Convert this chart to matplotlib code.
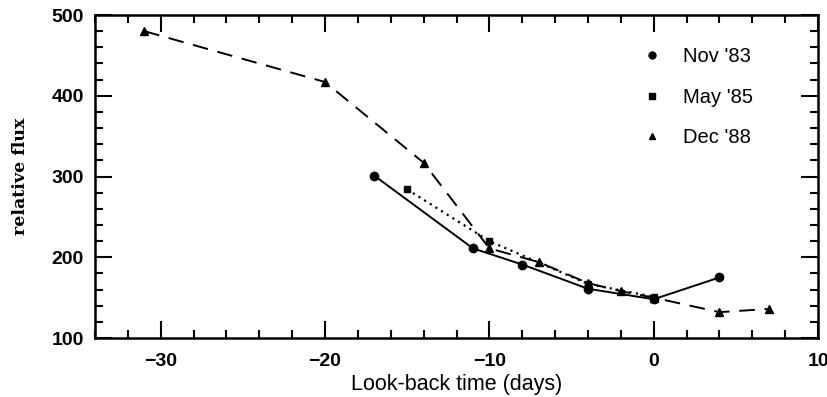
import matplotlib
matplotlib.use("Agg")
import matplotlib.pyplot as plt
from matplotlib.lines import Line2D
from matplotlib.ticker import MultipleLocator

# Nov '83 (solid, circles)
nov83_days = [-17, -11, -8, -4, 0, 4]
nov83_flux = [301, 211, 191, 161, 148, 175]

# May '85 (dotted, squares)
may85_days = [-15, -10, -4, 0]
may85_flux = [284, 220, 167, 151]

# Dec '88 (dashed, triangles)
dec88_days = [-31, -20, -14, -10, -7, -4, -2, 0, 4, 7]
dec88_flux = [480, 417, 317, 211, 194, 168, 158, 150, 132, 136]

labels = ["Nov '83", "May '85", "Dec '88"]

fig = plt.figure(figsize=(8.28, 3.97), dpi=100)
ax = fig.add_axes([0.1147, 0.1486, 0.8733, 0.8136])

ax.plot(nov83_days, nov83_flux, color="black", lw=1.4, ls="-",
        marker="o", ms=6)
ax.plot(may85_days, may85_flux, color="black", lw=1.6, ls=(0, (1, 2)),
        marker="s", ms=4.5)
ax.plot(dec88_days, dec88_flux, color="black", lw=1.4, ls=(0, (8, 5)),
        marker="^", ms=5.5)

ax.set_xlim(-34, 10)
ax.set_ylim(100, 500)
ax.xaxis.set_major_locator(MultipleLocator(10))
ax.xaxis.set_minor_locator(MultipleLocator(2))
ax.yaxis.set_major_locator(MultipleLocator(100))
ax.yaxis.set_minor_locator(MultipleLocator(20))

for side in ax.spines.values():
    side.set_linewidth(1.8)

ax.tick_params(which="both", direction="in", top=True, right=True,
               width=1.5, labelsize=14)
ax.tick_params(which="major", length=12)
ax.tick_params(which="minor", length=6)
ax.tick_params(axis="x", pad=11)
ax.tick_params(axis="y", pad=8)
for lab in ax.get_xticklabels() + ax.get_yticklabels():
    lab.set_fontfamily("Liberation Sans")
    lab.set_fontweight("bold")

ax.set_xlabel("Look-back time (days)", fontsize=15.5, family="Liberation Sans",
              labelpad=3)
ax.set_ylabel("relative flux", fontsize=12.5, family="DejaVu Serif",
              fontweight="bold", labelpad=16)

# legend shows markers only, no lines
handles = [
    Line2D([], [], color="black", ls="none", marker="o", ms=5),
    Line2D([], [], color="black", ls="none", marker="s", ms=4),
    Line2D([], [], color="black", ls="none", marker="^", ms=4),
]
leg = ax.legend(handles, labels, loc="upper left",
                bbox_to_anchor=(0.757, 0.901), frameon=False, borderpad=0,
                borderaxespad=0, handlelength=1.0, handletextpad=1.0,
                labelspacing=1.08,
                prop={"family": "Liberation Sans", "size": 14.5})

fig.savefig("out.png", dpi=100)
